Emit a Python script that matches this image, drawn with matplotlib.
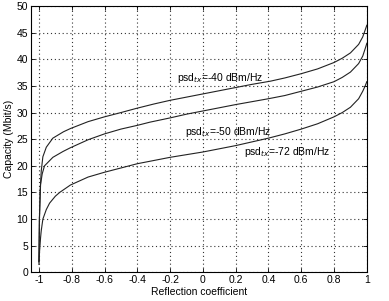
import matplotlib
matplotlib.use('Agg')
import matplotlib.pyplot as plt

plt.rcParams['font.family'] = ['Liberation Sans', 'DejaVu Sans']
plt.rcParams['font.size'] = 7.5

# reflection coefficient / capacity (Mbit/s)
x_40 = [-1.0, -0.997, -0.993, -0.986, -0.976, -0.955, -0.915, -0.85, -0.808, -0.7,
        -0.6, -0.5, -0.404, -0.3, -0.2, -0.1, 0.0, 0.1, 0.2, 0.3,
        0.413, 0.5, 0.6, 0.7, 0.8, 0.85, 0.9, 0.95, 0.975, 0.99, 1.0]
c_40 = [2.0, 10.0, 15.0, 19.0, 21.7, 23.5, 25.2, 26.4, 27.0, 28.3,
        29.2, 30.0, 30.8, 31.6, 32.3, 32.9, 33.5, 34.1, 34.7, 35.3,
        35.9, 36.5, 37.3, 38.2, 39.4, 40.2, 41.2, 42.8, 44.2, 45.5, 46.4]

x_50 = [-1.0, -0.997, -0.99, -0.98, -0.966, -0.915, -0.853, -0.808, -0.7, -0.6,
        -0.5, -0.4, -0.323, -0.2, -0.1, 0.0, 0.1, 0.2, 0.3, 0.4,
        0.5, 0.6, 0.7, 0.8, 0.85, 0.9, 0.95, 0.975, 0.99, 1.0]
c_50 = [2.0, 10.0, 16.5, 18.5, 20.0, 21.6, 22.7, 23.4, 24.9, 26.0,
        26.9, 27.6, 28.2, 29.0, 29.7, 30.3, 30.9, 31.5, 32.05, 32.6,
        33.2, 34.0, 34.8, 35.8, 36.6, 37.6, 39.2, 40.6, 42.0, 43.0]

x_72 = [-1.0, -0.996, -0.99, -0.986, -0.976, -0.955, -0.935, -0.9, -0.874, -0.808,
        -0.7, -0.6, -0.5, -0.4, -0.3, -0.2, -0.1, 0.0, 0.1, 0.2,
        0.3, 0.4, 0.5, 0.6, 0.7, 0.8, 0.85, 0.9, 0.95, 0.975, 0.99, 1.0]
c_72 = [1.5, 4.0, 6.5, 7.8, 10.0, 11.8, 13.0, 14.3, 15.0, 16.4,
        17.9, 18.8, 19.6, 20.4, 21.0, 21.6, 22.1, 22.6, 23.2, 23.8,
        24.5, 25.2, 26.0, 26.9, 27.9, 29.2, 30.0, 31.0, 32.6, 34.0, 35.0, 35.8]

labels = ['psd$_{tx}$=-40 dBm/Hz', 'psd$_{tx}$=-50 dBm/Hz', 'psd$_{tx}$=-72 dBm/Hz']
label_pos = [(-0.16, 36.4), (-0.108, 26.4), (0.253, 22.6)]

fig = plt.figure(figsize=(3.89, 3.01), dpi=100)
ax = fig.add_axes([0.079, 0.095, 0.864, 0.885])

for xs, cs in [(x_40, c_40), (x_50, c_50), (x_72, c_72)]:
    ax.plot(xs, cs, color='#222222', linewidth=0.8)

for txt, (tx, ty) in zip(labels, label_pos):
    ax.text(tx, ty, txt, fontsize=7.5, va='center', ha='left')

ax.set_xlim(-1.05, 1)
ax.set_ylim(0, 50)
ax.set_xticks([-1, -0.8, -0.6, -0.4, -0.2, 0, 0.2, 0.4, 0.6, 0.8, 1])
ax.set_xticklabels(['-1', '-0.8', '-0.6', '-0.4', '-0.2', '0', '0.2', '0.4', '0.6', '0.8', '1'])
ax.set_yticks(range(0, 51, 5))
ax.grid(True, color='#333333', linestyle=(0, (1, 2.5)), linewidth=0.8)
ax.tick_params(direction='in', top=True, right=True, length=3, width=0.6, pad=2)
for s in ax.spines.values():
    s.set_linewidth(0.8)

ax.set_xlabel('Reflection coefficient', labelpad=1)
ax.set_ylabel('Capacity (Mbit/s)', labelpad=2)

fig.savefig('out.png', dpi=100)
